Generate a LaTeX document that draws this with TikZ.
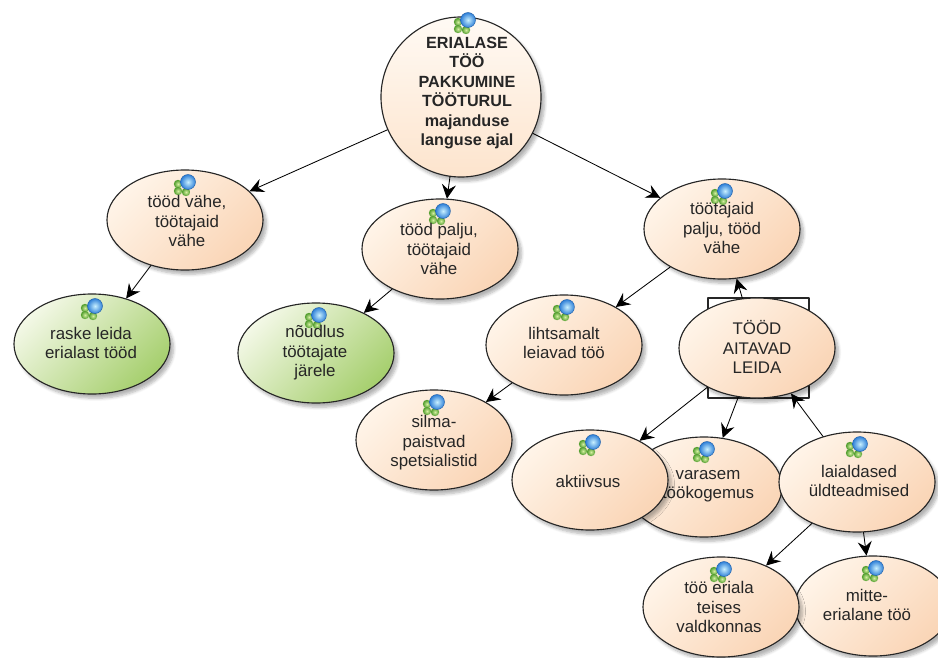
\documentclass[tikz,border=0pt]{standalone}
\usepackage{fontspec}
\setmainfont{Liberation Sans}
\usetikzlibrary{arrows.meta}
\usetikzlibrary{calc}
\usetikzlibrary{shapes.geometric}
\usetikzlibrary{shadows.blur}
\definecolor{fff4e8}{HTML}{FFF4E8}
\definecolor{fad5b6}{HTML}{FAD5B6}
\definecolor{fffaf4}{HTML}{FFFAF4}
\definecolor{fde4cd}{HTML}{FDE4CD}
\definecolor{f3f8e6}{HTML}{F3F8E6}
\definecolor{a6cf6e}{HTML}{A6CF6E}
\definecolor{c8f0ff}{HTML}{C8F0FF}
\definecolor{qqbbff}{HTML}{2F80D8}
\definecolor{qqggbb}{HTML}{1F5FA8}
\definecolor{d4f0a0}{HTML}{D4F0A0}
\definecolor{qqaaqq}{HTML}{4C9A2A}
\newcommand{\glyph}[1]{
    \begin{scope}[shift={(#1)}]
    \shade[inner color=d4f0a0,outer color=qqaaqq] (-10,2) circle (4.2);
    \shade[inner color=d4f0a0,outer color=qqaaqq] (-10,9) circle (4.2);
    \shade[inner color=d4f0a0,outer color=qqaaqq] (-2,10) circle (4.2);
    \shade[inner color=c8f0ff,outer color=qqbbff,draw=qqggbb,line width=0.3pt] (0,0) circle (7.5);
    \end{scope}
}
\newcommand{\concept}[5][]{
    \node [bubble,#1] (#2) at (#3) {};
    \glyph{$(#2)+(3,-38)$}
    \node [wording] (#2text) at (#4) {#5};
}
\tikzstyle{every node}=[font=\fontsize{12}{13.9}\selectfont,text=black!85]
\tikzstyle{bubble}=[ellipse,draw=black!85,line width=0.8pt,inner sep=0pt,minimum width=3.9cm,minimum height=2.5cm,top color=fff4e8,bottom color=fad5b6,shading angle=45,blur shadow={shadow xshift=2.5pt,shadow yshift=-3pt,shadow opacity=30,shadow blur steps=6}]
\tikzstyle{leaf}=[top color=f3f8e6,bottom color=a6cf6e,shading angle=45]
\tikzstyle{wording}=[align=center,inner sep=0pt]
\begin{document}
\begin{tikzpicture}[line cap=round,line join=round,>={Stealth[length=10pt,width=10pt,inset=3.5pt]},x=0.025cm,y=-0.025cm]
    \useasboundingbox (0,0) rectangle (938,657);
    \node [draw=black!85,line width=0.8pt,minimum width=2.525cm,minimum height=2.5cm] (aitavadbox) at (758.5,348) {};
    \node [bubble,minimum width=4cm,minimum height=4cm,top color=fffaf4,bottom color=fde4cd] (root) at (461,97) {};
    \glyph{468,20}
    \node [wording,font=\fontsize{11.5}{13.9}\selectfont\bfseries] (roottext) at (467,93) {ERIALASE\\TÖÖ\\PAKKUMINE\\TÖÖTURUL\\majanduse\\languse ajal};
    \concept{toodvahe}{185,220}{187,221}{tööd vähe,\\töötajaid\\vähe}
    \concept[leaf]{raske}{92,344}{91,343}{raske leida\\erialast tööd}
    \concept{toodpalju}{440,249}{439,249}{tööd palju,\\töötajaid\\vähe}
    \concept[leaf]{noudlus}{316,353}{315,353}{nõudlus\\töötajate\\järele}
    \concept{tootajaid}{722,229}{722,228}{töötajaid\\palju, tööd\\vähe}
    \concept{lihtsamalt}{564,345}{564,343}{lihtsamalt\\leiavad töö}
    \node [bubble] (aitavad) at (757,348) {};
    \node [wording] (aitavadtext) at (757,347) {TÖÖD\\AITAVAD\\LEIDA};
    \concept{silma}{434,440}{434,443}{silma-\\paistvad\\spetsialistid}
    \concept{varasem}{704,487}{708,486}{varasem\\töökogemus}
    \concept{aktiivsus}{590,480}{588,481}{aktiivsus}
    \concept{laialdased}{857,482}{859,481}{laialdased\\üldteadmised}
    \concept{mitte}{873,606}{867,605}{mitte-\\erialane töö}
    \concept{eriala}{721,607}{719,607}{töö eriala\\teises\\valdkonnas}
    \draw [->,line width=0.6pt] (root) -- (toodvahe);
    \draw [->,line width=0.6pt] (root) -- (toodpalju);
    \draw [->,line width=0.6pt] (root) -- (tootajaid);
    \draw [->,line width=0.6pt] (toodvahe) -- (raske);
    \draw [->,line width=0.6pt] (toodpalju) -- (noudlus);
    \draw [->,line width=0.6pt] (tootajaid) -- (lihtsamalt);
    \draw [->,line width=0.6pt] (lihtsamalt) -- (silma);
    \draw [->,line width=0.6pt] (aitavad) -- (tootajaid);
    \draw [->,line width=0.6pt] (aitavad) -- (aktiivsus);
    \draw [->,line width=0.6pt] (aitavad) -- (varasem);
    \draw [->,line width=0.6pt] (laialdased) -- (aitavad);
    \draw [->,line width=0.6pt] (laialdased) -- (eriala);
    \draw [->,line width=0.6pt] (laialdased) -- (mitte);
\end{tikzpicture}
\end{document}
